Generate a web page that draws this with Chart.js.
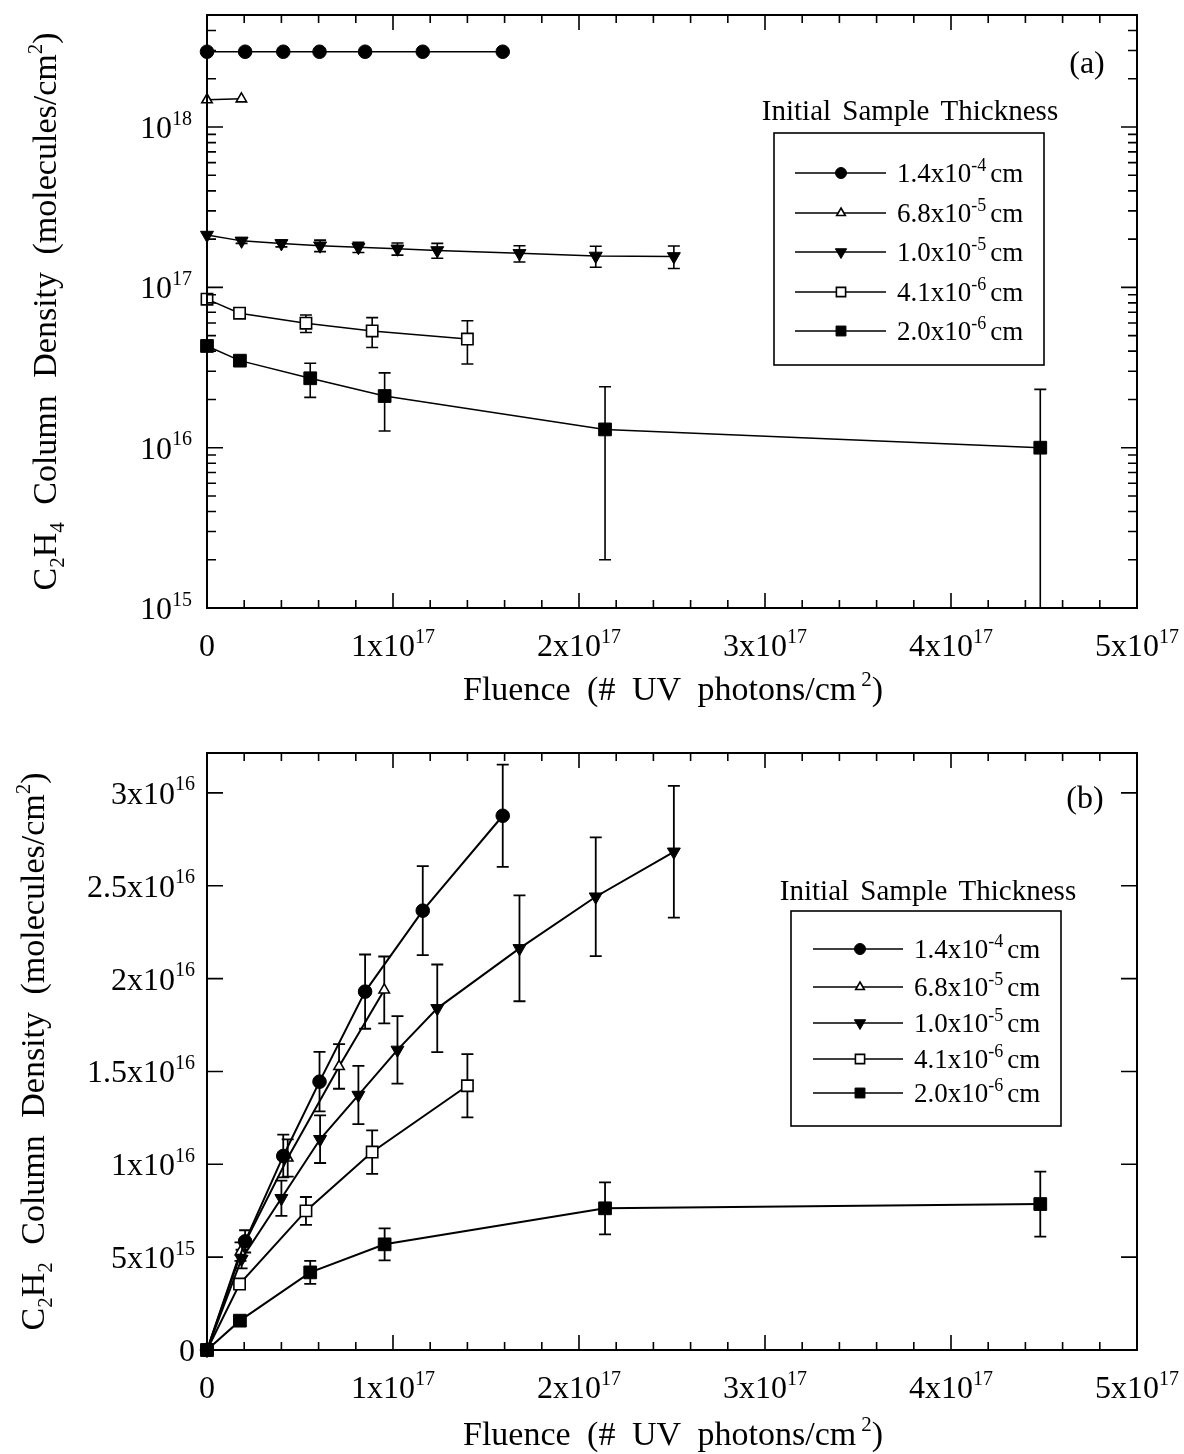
<!DOCTYPE html>
<html>
<head>
<meta charset="utf-8">
<script src="https://cdn.jsdelivr.net/npm/chart.js@4/dist/chart.umd.min.js"></script>
<style>
  html, body { margin: 0; padding: 0; background: #fff; }
  #wrap { position: relative; width: 1184px; height: 1454px; }
  .panel { position: absolute; left: 0; width: 1184px; }
  canvas { display: block; }
</style>
</head>
<body>
<div id="wrap">
  <div class="panel" style="top:0;height:720px"><canvas id="c2h4" width="1184" height="720"></canvas></div>
  <div class="panel" style="top:720px;height:734px"><canvas id="c2h2" width="1184" height="734"></canvas></div>
</div>
<script>
// ---- Sample thickness labels (legend) ----
const thicknessMantissa = ['1.4x10', '6.8x10', '1.0x10', '4.1x10', '2.0x10'];
const thicknessExponent = ['-4', '-5', '-5', '-6', '-6'];

// ---- Fluence (# UV photons/cm^2) for each sample ----
const fluence140 = [0, 0.205e17, 0.41e17, 0.605e17, 0.85e17, 1.16e17, 1.59e17];
const fluence68a = [0, 0.185e17];
const fluence68b = [0, 0.18e17, 0.434e17, 0.71e17, 0.953e17];
const fluence10  = [0, 0.186e17, 0.40e17, 0.608e17, 0.814e17, 1.024e17, 1.238e17, 1.68e17, 2.09e17, 2.51e17];
const fluence41  = [0, 0.175e17, 0.532e17, 0.888e17, 1.40e17];
const fluence20  = [0, 0.177e17, 0.555e17, 0.955e17, 2.14e17, 4.48e17];

// ---- (a) C2H4 column density (molecules/cm^2) and uncertainties ----
const c2h4_140 = [2.95e18, 2.95e18, 2.95e18, 2.95e18, 2.95e18, 2.95e18, 2.95e18];
const c2h4_68  = [1.48e18, 1.50e18];
const c2h4_10  = [2.12e17, 1.95e17, 1.88e17, 1.82e17, 1.78e17, 1.74e17, 1.70e17, 1.63e17, 1.57e17, 1.56e17];
const c2h4_10_err = [0, 0.07e17, 0.09e17, 0.15e17, 0.13e17, 0.15e17, 0.18e17, 0.19e17, 0.235e17, 0.25e17];
const c2h4_41  = [8.44e16, 6.9e16, 5.98e16, 5.35e16, 4.76e16];
const c2h4_41_err = [0, 0, 0.75e16, 1.13e16, 1.43e16];
const c2h4_20  = [4.31e16, 3.49e16, 2.71e16, 2.10e16, 1.30e16, 1.0e16];
const c2h4_20_err = [0, 0, 0.65e16, 0.83e16, 1.10e16, 1.31e16];

// ---- (b) C2H2 column density (molecules/cm^2) and uncertainties ----
const c2h2_140 = [0, 0.585e16, 1.045e16, 1.445e16, 1.93e16, 2.366e16, 2.877e16];
const c2h2_140_err = [0, 0.06e16, 0.115e16, 0.16e16, 0.2e16, 0.24e16, 0.275e16];
const c2h2_68  = [0, 0.53e16, 1.034e16, 1.527e16, 1.939e16];
const c2h2_68_err = [0, 0.05e16, 0.1e16, 0.12e16, 0.18e16];
const c2h2_10  = [0, 0.49e16, 0.817e16, 1.135e16, 1.373e16, 1.616e16, 1.84e16, 2.163e16, 2.441e16, 2.683e16];
const c2h2_10_err = [0, 0.05e16, 0.095e16, 0.128e16, 0.157e16, 0.182e16, 0.236e16, 0.285e16, 0.32e16, 0.355e16];
const c2h2_41  = [0, 0.355e16, 0.749e16, 1.066e16, 1.423e16];
const c2h2_41_err = [0, 0, 0.075e16, 0.117e16, 0.17e16];
const c2h2_20  = [0, 0.158e16, 0.418e16, 0.569e16, 0.763e16, 0.786e16];
const c2h2_20_err = [0, 0, 0.062e16, 0.086e16, 0.14e16, 0.175e16];

// ---- Axis ticks and their labels (mantissa, exponent) ----
const fluenceTicks = [0, 1e17, 2e17, 3e17, 4e17, 5e17];
const fluenceTickLabels = [['0', ''], ['1x10', '17'], ['2x10', '17'], ['3x10', '17'], ['4x10', '17'], ['5x10', '17']];
const fluenceMinorStep = 2e16;
const c2h4Ticks = [1e15, 1e16, 1e17, 1e18];
const c2h4TickLabels = [['10', '15'], ['10', '16'], ['10', '17'], ['10', '18']];
const c2h2Ticks = [0, 5e15, 1e16, 1.5e16, 2e16, 2.5e16, 3e16];
const c2h2TickLabels = [['0', ''], ['5x10', '15'], ['1x10', '16'], ['1.5x10', '16'], ['2x10', '16'], ['2.5x10', '16'], ['3x10', '16']];

const FONT = "'Liberation Serif', 'DejaVu Serif', serif";
const f = (px) => px + 'px ' + FONT;

// ---- Rich text helpers (super/subscripts, wider word gaps) ----
function runWidth(ctx, t, gap) {
  const words = t.split(' ');
  const sp = ctx.measureText(' ').width + (gap || 0);
  let w = 0;
  words.forEach((wd, i) => { w += ctx.measureText(wd).width; if (i < words.length - 1) w += sp; });
  return w;
}
function segsWidth(ctx, segs, gap) {
  let w = 0;
  for (const s of segs) { ctx.font = s.font; w += runWidth(ctx, s.t, gap) + (s.dx || 0); }
  return w;
}
function drawSegs(ctx, segs, x, y, align, gap) {
  const total = segsWidth(ctx, segs, gap);
  let cx = align === 'center' ? x - total / 2 : align === 'right' ? x - total : x;
  ctx.textAlign = 'left';
  ctx.textBaseline = 'alphabetic';
  ctx.fillStyle = '#000';
  for (const s of segs) {
    ctx.font = s.font;
    cx += (s.dx || 0);
    const sp = ctx.measureText(' ').width + (gap || 0);
    const words = s.t.split(' ');
    words.forEach((wd, i) => {
      ctx.fillText(wd, cx, y + (s.dy || 0));
      cx += ctx.measureText(wd).width;
      if (i < words.length - 1) cx += sp;
    });
  }
}
function expLabel(pair, size) {
  const segs = [{ t: pair[0], font: f(size) }];
  if (pair[1]) segs.push({ t: pair[1], font: f(Math.round(size * 0.62)), dy: -size * 0.42 });
  return segs;
}

// ---- Markers ----
const mark140 = { style: 'circle', rot: 0, r: 6.8, fill: '#000', bw: 1, lr: 5.5 };
const mark68  = { style: 'triangle', rot: 0, r: 6, fill: '#fff', bw: 1.6, lr: 5 };
const mark10  = { style: 'triangle', rot: 180, r: 7.5, fill: '#000', bw: 1, lr: 6.5 };
const mark41  = { style: 'rect', rot: 0, r: 8, fill: '#fff', bw: 1.6, lr: 6.5 };
const mark20  = { style: 'rect', rot: 0, r: 9, fill: '#000', bw: 1, lr: 7 };

function series(idx, xs, ys, errs, m, lw) {
  return {
    label: thicknessMantissa[idx] + '^' + thicknessExponent[idx] + ' cm',
    legendIndex: idx,
    data: xs.map((x, i) => ({ x: x, y: ys[i] })),
    errors: errs,
    marker: m,
    showLine: true,
    borderColor: '#000',
    borderWidth: lw,
    tension: 0,
    clip: false,
    pointStyle: m.style,
    rotation: m.rot,
    pointRotation: m.rot,
    pointRadius: m.r,
    pointHoverRadius: m.r,
    pointBackgroundColor: m.fill,
    pointBorderColor: '#000',
    pointBorderWidth: m.bw
  };
}

function drawMarker(ctx, m, x, y, r) {
  ctx.save();
  ctx.fillStyle = m.fill;
  ctx.strokeStyle = '#000';
  ctx.lineWidth = m.bw;
  if (Chart.helpers && Chart.helpers.drawPoint) {
    Chart.helpers.drawPoint(ctx, { pointStyle: m.style, rotation: m.rot, radius: r, borderWidth: m.bw }, x, y);
  } else {
    ctx.beginPath();
    ctx.arc(x, y, r, 0, Math.PI * 2);
    ctx.fill(); ctx.stroke();
  }
  ctx.restore();
}

// Vertical error bars with caps, drawn under the markers
const errorBarPlugin = {
  id: 'errorBars',
  beforeDatasetsDraw(chart) {
    const { ctx, chartArea: a } = chart;
    const xs = chart.scales.x, ys = chart.scales.y;
    const isLog = ys.type === 'logarithmic';
    ctx.save();
    ctx.beginPath();
    ctx.rect(a.left, a.top, a.right - a.left, a.bottom - a.top);
    ctx.clip();
    ctx.strokeStyle = '#000';
    ctx.lineWidth = chart.options.errLineWidth || 1.6;
    chart.data.datasets.forEach(ds => {
      if (!ds.errors) return;
      ds.data.forEach((p, i) => {
        const e = ds.errors[i];
        if (!e) return;
        const px = xs.getPixelForValue(p.x);
        const hi = ys.getPixelForValue(p.y + e);
        const loVal = p.y - e;
        const lowOut = isLog && loVal <= 0;
        const lo = lowOut ? a.bottom + 2 : ys.getPixelForValue(loVal);
        const cap = 6;
        ctx.beginPath();
        ctx.moveTo(px, hi); ctx.lineTo(px, lo);
        ctx.moveTo(px - cap, hi); ctx.lineTo(px + cap, hi);
        if (!lowOut) { ctx.moveTo(px - cap, lo); ctx.lineTo(px + cap, lo); }
        ctx.stroke();
      });
    });
    ctx.restore();
  }
};

// Frame, inward ticks, tick labels, axis titles, legend box and panel tag
function decorPlugin(cfg) {
  return {
    id: 'decor',
    afterDraw(chart) {
      const { ctx, chartArea: a } = chart;
      const xs = chart.scales.x, ys = chart.scales.y;
      ctx.save();
      ctx.strokeStyle = '#000';
      ctx.fillStyle = '#000';

      // frame
      ctx.lineWidth = 2;
      ctx.strokeRect(a.left, a.top, a.right - a.left, a.bottom - a.top);

      // x ticks (bottom and top, pointing inward)
      ctx.lineWidth = 1.6;
      ctx.beginPath();
      fluenceTicks.forEach(v => {
        const px = xs.getPixelForValue(v);
        ctx.moveTo(px, a.bottom); ctx.lineTo(px, a.bottom - 15);
        ctx.moveTo(px, a.top); ctx.lineTo(px, a.top + 15);
      });
      for (let v = fluenceMinorStep; v < xs.max; v += fluenceMinorStep) {
        if (fluenceTicks.some(t => Math.abs(t - v) < 1e10)) continue;
        const px = xs.getPixelForValue(v);
        ctx.moveTo(px, a.bottom); ctx.lineTo(px, a.bottom - 8);
        ctx.moveTo(px, a.top); ctx.lineTo(px, a.top + 8);
      }
      // y ticks (left and right, pointing inward)
      cfg.yTicks.forEach(v => {
        const py = ys.getPixelForValue(v);
        ctx.moveTo(a.left, py); ctx.lineTo(a.left + 16, py);
        ctx.moveTo(a.right, py); ctx.lineTo(a.right - 16, py);
      });
      (cfg.yMinor || []).forEach(v => {
        const py = ys.getPixelForValue(v);
        ctx.moveTo(a.left, py); ctx.lineTo(a.left + 9, py);
        ctx.moveTo(a.right, py); ctx.lineTo(a.right - 9, py);
      });
      ctx.stroke();

      // x tick labels
      fluenceTicks.forEach((v, i) => {
        drawSegs(ctx, expLabel(fluenceTickLabels[i], 32), xs.getPixelForValue(v), a.bottom + 48, 'center');
      });
      // y tick labels
      cfg.yTicks.forEach((v, i) => {
        drawSegs(ctx, expLabel(cfg.yTickLabels[i], 32), cfg.yLabelRight, ys.getPixelForValue(v) + 11, 'right');
      });

      // x axis title
      drawSegs(ctx, [
        { t: 'Fluence (# UV photons/cm', font: f(34) },
        { t: '2', font: f(21), dy: -14, dx: 5 },
        { t: ')', font: f(34) }
      ], (a.left + a.right) / 2 + 1, a.bottom + cfg.xTitleOffset, 'center', 8);

      // y axis title (rotated)
      ctx.save();
      ctx.translate(cfg.yTitleX, (a.top + a.bottom) / 2);
      ctx.rotate(-Math.PI / 2);
      drawSegs(ctx, [
        { t: 'C', font: f(34) },
        { t: '2', font: f(21), dy: 8 },
        { t: 'H', font: f(34) },
        { t: cfg.subH, font: f(21), dy: 8 },
        { t: ' Column Density (molecules/cm', font: f(34) },
        { t: '2', font: f(21), dy: -14 },
        { t: ')', font: f(34) }
      ], 0, 12, 'center', 9);
      ctx.restore();

      // panel tag
      drawSegs(ctx, [{ t: cfg.tag, font: f(32) }], cfg.tagX, cfg.tagY, 'center');

      // legend
      const L = cfg.legend;
      drawSegs(ctx, [{ t: 'Initial Sample Thickness', font: f(29) }], L.titleX, L.titleY, 'center', 4);
      ctx.lineWidth = 1.6;
      ctx.strokeRect(L.box[0], L.box[1], L.box[2] - L.box[0], L.box[3] - L.box[1]);
      chart.data.datasets.forEach((ds, k) => {
        const y = L.rows[k];
        ctx.beginPath();
        ctx.lineWidth = 1.4;
        ctx.moveTo(L.lineX[0], y); ctx.lineTo(L.lineX[1], y);
        ctx.stroke();
        drawMarker(ctx, ds.marker, L.markX, y, ds.marker.lr);
        const idx = ds.legendIndex;
        drawSegs(ctx, [
          { t: thicknessMantissa[idx], font: f(27) },
          { t: thicknessExponent[idx], font: f(18), dy: -11 },
          { t: 'cm', font: f(27), dx: 4 }
        ], L.textX, y + 9, 'left');
      });
      ctx.restore();
    }
  };
}

function buildPanel(cfg) {
  return new Chart(document.getElementById(cfg.id), {
    type: 'scatter',
    data: { datasets: cfg.datasets },
    options: {
      responsive: false,
      animation: false,
      devicePixelRatio: 1,
      events: [],
      errLineWidth: cfg.errLineWidth,
      layout: {
        autoPadding: false,
        padding: { left: 0, top: cfg.area.top, right: cfg.width - cfg.area.right, bottom: 0 }
      },
      plugins: { legend: { display: false }, tooltip: { enabled: false } },
      scales: {
        x: {
          type: 'linear', min: 0, max: 5e17,
          afterFit: s => { s.height = cfg.height - cfg.area.bottom; },
          afterBuildTicks: s => { s.ticks = fluenceTicks.map(v => ({ value: v })); },
          ticks: { display: false }, grid: { display: false }, border: { display: false }
        },
        y: {
          type: cfg.yType, min: cfg.yMin, max: cfg.yMax,
          afterFit: s => { s.width = cfg.area.left; },
          afterBuildTicks: s => { s.ticks = cfg.yTicks.map(v => ({ value: v })); },
          ticks: { display: false }, grid: { display: false }, border: { display: false }
        }
      }
    },
    plugins: [errorBarPlugin, decorPlugin(cfg)]
  });
}

// minor ticks of the log axis: 2..9 x each decade below the axis maximum
const c2h4Minor = [];
c2h4Ticks.forEach(d => { for (let m = 2; m <= 9; m++) { if (d * m < 5e18) c2h4Minor.push(d * m); } });

// (a) C2H4
buildPanel({
  id: 'c2h4', width: 1184, height: 720,
  area: { left: 207, right: 1137, top: 15, bottom: 608 },
  yType: 'logarithmic', yMin: 1e15, yMax: 5e18,
  yTicks: c2h4Ticks, yTickLabels: c2h4TickLabels, yMinor: c2h4Minor,
  yLabelRight: 192, yTitleX: 44, subH: '4', xTitleOffset: 92,
  tag: '(a)', tagX: 1087, tagY: 73, errLineWidth: 1.6,
  legend: {
    titleX: 910, titleY: 120, box: [774, 133, 1044, 365],
    rows: [173, 213, 252, 292, 331], lineX: [795, 886], markX: 841, textX: 897
  },
  datasets: [
    series(0, fluence140, c2h4_140, null, mark140, 1.5),
    series(1, fluence68a, c2h4_68, null, mark68, 1.5),
    series(2, fluence10, c2h4_10, c2h4_10_err, mark10, 1.5),
    series(3, fluence41, c2h4_41, c2h4_41_err, mark41, 1.5),
    series(4, fluence20, c2h4_20, c2h4_20_err, mark20, 1.5)
  ]
});

// (b) C2H2
buildPanel({
  id: 'c2h2', width: 1184, height: 734,
  area: { left: 207, right: 1137, top: 33, bottom: 630 },
  yType: 'linear', yMin: 0, yMax: 3.215e16,
  yTicks: c2h2Ticks, yTickLabels: c2h2TickLabels, yMinor: [],
  yLabelRight: 195, yTitleX: 32, subH: '2', xTitleOffset: 95,
  tag: '(b)', tagX: 1085, tagY: 88, errLineWidth: 1.8,
  legend: {
    titleX: 928, titleY: 180, box: [791, 191, 1061, 406],
    rows: [229, 267, 303, 339, 373], lineX: [813, 903], markX: 860, textX: 914
  },
  datasets: [
    series(0, fluence140, c2h2_140, c2h2_140_err, mark140, 2),
    series(1, fluence68b, c2h2_68, c2h2_68_err, mark68, 2),
    series(2, fluence10, c2h2_10, c2h2_10_err, mark10, 2),
    series(3, fluence41, c2h2_41, c2h2_41_err, mark41, 2),
    series(4, fluence20, c2h2_20, c2h2_20_err, mark20, 2)
  ]
});
</script>
</body>
</html>
